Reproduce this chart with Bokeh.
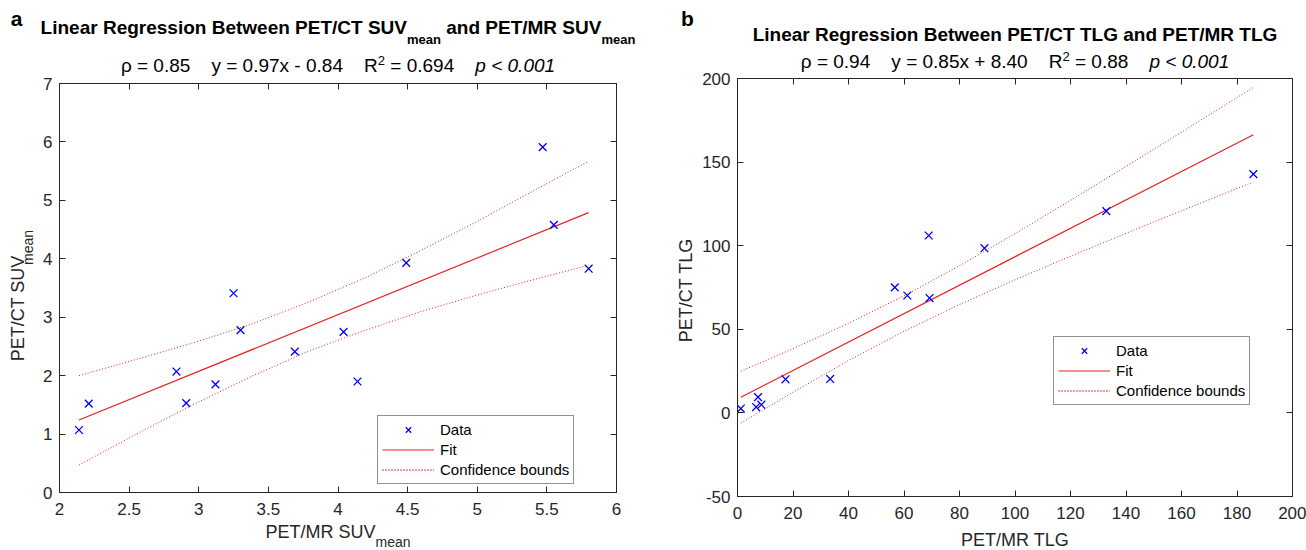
import math
import os
import subprocess

from bokeh.embed import file_html
from bokeh.layouts import column, row
from bokeh.models import FixedTicker, Label, Legend, LegendItem, LinearAxis, Range1d
from bokeh.plotting import figure
from bokeh.resources import INLINE

# ---------------------------------------------------------------- data (a)
suv_pet_mr = [2.14, 2.21, 2.84, 2.91, 3.12, 3.25, 3.30, 3.69, 4.04, 4.14, 4.49, 5.47, 5.55, 5.80]
suv_pet_ct = [1.07, 1.52, 2.07, 1.53, 1.85, 3.41, 2.78, 2.41, 2.75, 1.90, 3.93, 5.91, 4.58, 3.83]
suv_fit_x = [2.14, 5.80]
suv_fit_y = [1.24, 4.79]
suv_ci_x = [2.14, 2.6, 3.0, 3.4, 3.8, 4.2, 4.6, 5.0, 5.4, 5.80]
suv_ci_upper = [2.00, 2.31, 2.59, 2.90, 3.27, 3.68, 4.15, 4.64, 5.16, 5.67]
suv_ci_lower = [0.47, 1.06, 1.55, 2.01, 2.43, 2.78, 3.10, 3.38, 3.64, 3.89]
suv_x_ticks = [2, 2.5, 3, 3.5, 4, 4.5, 5, 5.5, 6]
suv_x_tick_labels = ["2", "2.5", "3", "3.5", "4", "4.5", "5", "5.5", "6"]
suv_y_ticks = [0, 1, 2, 3, 4, 5, 6, 7]
suv_y_tick_labels = ["0", "1", "2", "3", "4", "5", "6", "7"]

# ---------------------------------------------------------------- data (b)
tlg_pet_mr = [1.2, 6.7, 7.4, 8.6, 17.3, 33.4, 56.7, 61.2, 68.9, 69.2, 89.0, 132.9, 185.9]
tlg_pet_ct = [2.6, 3.5, 9.4, 4.9, 20.1, 20.3, 75.1, 70.2, 106.1, 68.7, 98.5, 120.7, 142.8]
tlg_fit_x = [1.2, 185.9]
tlg_fit_y = [9.4, 166.4]
tlg_ci_x = [1.2, 20, 40, 60, 80, 100, 120, 140, 160, 185.9]
tlg_ci_upper = [24.9, 38.4, 53.6, 70.0, 88.0, 107.2, 127.1, 147.4, 167.9, 194.7]
tlg_ci_lower = [-6.1, 12.4, 31.3, 48.8, 64.8, 79.6, 93.7, 107.4, 120.9, 138.1]
tlg_x_ticks = [0, 20, 40, 60, 80, 100, 120, 140, 160, 180, 200]
tlg_x_tick_labels = ["0", "20", "40", "60", "80", "100", "120", "140", "160", "180", "200"]
tlg_y_ticks = [-50, 0, 50, 100, 150, 200]
tlg_y_tick_labels = ["-50", "0", "50", "100", "150", "200"]

# ---------------------------------------------------------------- texts
legend_labels = ["Data", "Fit", "Confidence bounds"]
suv_stats = ["\u03c1 = 0.85", "y = 0.97x - 0.84", "R", "2", "= 0.694", "p < 0.001"]
tlg_stats = ["\u03c1 = 0.94", "y = 0.85x + 8.40", "R", "2", "= 0.88", "p < 0.001"]

FONT = "Liberation Sans"
AX = "#262626"
BLUE = "#0000FF"
RED = "#E82020"
W, H = 1306, 550
MID = 0.35  # distance (in em) from the alphabetic baseline up to the text box middle

# ---------------------------------------------------------------- text measuring
_cache = {}


def _font_file(bold, italic):
    style = {(False, False): "Regular", (True, False): "Bold",
             (False, True): "Italic", (True, True): "BoldItalic"}[(bold, italic)]
    cands = []
    try:
        spec = "Liberation Sans:style=" + {(False, False): "Regular", (True, False): "Bold",
                                            (False, True): "Italic", (True, True): "Bold Italic"}[(bold, italic)]
        out = subprocess.run(["fc-match", "-f", "%{file}", spec], capture_output=True,
                             text=True, timeout=5).stdout.strip()
        if out:
            cands.append(out)
    except Exception:
        pass
    for d in ["/usr/share/fonts/truetype/liberation/", "/usr/share/fonts/liberation/",
              "/usr/share/fonts/truetype/liberation2/", "/usr/share/fonts/TTF/"]:
        cands.append(d + "LiberationSans-%s.ttf" % style)
    for c in cands:
        if os.path.exists(c):
            return c
    return None


def text_width(s, size, bold=False, italic=False):
    key = (size, bold, italic)
    if key not in _cache:
        f = None
        try:
            from PIL import ImageFont
            path = _font_file(bold, italic)
            if path:
                f = ImageFont.truetype(path, size)
        except Exception:
            f = None
        _cache[key] = f
    f = _cache[key]
    if f is None:
        return 0.56 * size * len(s)
    return f.getlength(s)


# ---------------------------------------------------------------- text strips
class Strip:
    """A figure without axes holding texts; its ranges are page pixels.

    frame_x gives the page x extent of the strip's frame when the layout aligns
    that frame with the plot below it (otherwise the frame is the whole canvas)."""

    def __init__(self, ox, oy, w, h, frame_x=None):
        xr = Range1d(ox, ox + w) if frame_x is None else Range1d(*frame_x)
        f = figure(width=w, height=h, x_range=xr, y_range=Range1d(oy + h, oy),
                   output_backend="svg", toolbar_location=None, title=None,
                   x_axis_type=None, y_axis_type=None, min_border=0)
        f.outline_line_color = None
        f.background_fill_color = "white"
        f.border_fill_color = "white"
        f.grid.visible = False
        self.p = f

    def label(self, text, cx, cy, size, bold=False, italic=False, color="black", angle=0.0):
        style = "bold italic" if (bold and italic) else "bold" if bold else "italic" if italic else "normal"
        self.p.add_layout(Label(x=cx, y=cy, text=text, text_font=FONT,
                                text_font_size="%spx" % size, text_font_style=style,
                                text_color=color, angle=angle,
                                text_align="center", text_baseline="middle"))

    def hcompose(self, pieces, cx, base_y, color="black"):
        # pieces: (text, size, bold, italic, shift_down); blank text = gap only
        widths = [text_width(t, s, b, i) for (t, s, b, i, d) in pieces]
        x = cx - sum(widths) / 2.0
        for (t, s, b, i, d), w in zip(pieces, widths):
            if t.strip():
                self.label(t, x + w / 2.0, base_y + d - MID * s, s, b, i, color)
            x += w

    def vcompose(self, pieces, base_x, cy, color=AX):
        # text rotated 90 deg counter-clockwise; base_x is the baseline position
        widths = [text_width(t, s, b, i) for (t, s, b, i, d) in pieces]
        y = cy + sum(widths) / 2.0
        for (t, s, b, i, d), w in zip(pieces, widths):
            if t.strip():
                self.label(t, base_x + d - MID * s, y - w / 2.0, s, b, i, color, angle=math.pi / 2)
            y -= w


def blank_axis(ticks, side_fig, side):
    ax = LinearAxis(ticker=FixedTicker(ticks=ticks),
                    major_label_overrides={t: "" for t in ticks},
                    major_tick_in=6, major_tick_out=0, minor_tick_in=0, minor_tick_out=0,
                    major_label_standoff=0, major_label_text_font_size="1px",
                    axis_line_color=AX, major_tick_line_color=AX)
    side_fig.add_layout(ax, side)


# ---------------------------------------------------------------- plot panels
def make_plot(ox, oy, w, h, frame_left, frame_top, frame_w, frame_h, xrange, yrange, xt, xl, yt):
    p = figure(width=w, height=h, x_range=xrange, y_range=yrange,
               output_backend="svg", toolbar_location=None, title=None,
               x_axis_location="below", y_axis_location=None,
               min_border_left=frame_left - ox, min_border_right=w - (frame_left - ox) - frame_w,
               min_border_top=frame_top - oy, min_border_bottom=h - (frame_top - oy) - frame_h)
    p.background_fill_color = "white"
    p.border_fill_color = "white"
    p.outline_line_color = AX
    p.outline_line_width = 1
    p.grid.visible = False
    ax = p.xaxis[0]
    ax.ticker = FixedTicker(ticks=xt)
    ax.major_label_overrides = {t: l for t, l in zip(xt, xl)}
    ax.major_tick_in = 6
    ax.major_tick_out = 0
    ax.minor_tick_in = 0
    ax.minor_tick_out = 0
    ax.axis_line_color = AX
    ax.major_tick_line_color = AX
    ax.major_label_text_font = FONT
    ax.major_label_text_font_size = "17px"
    ax.major_label_text_color = AX
    ax.major_label_standoff = 10
    blank_axis(xt, p, "above")
    blank_axis(yt, p, "left")
    blank_axis(yt, p, "right")
    p.grid.visible = False
    return p


def make_yaxis(w, h, oy, frame_top, frame_h, yrange, yt, yl):
    """Narrow figure carrying the y tick labels; its 1px frame sits next to the plot's frame."""
    f = figure(width=w, height=h, x_range=Range1d(0, 1), y_range=yrange,
               output_backend="svg", toolbar_location=None, title=None,
               x_axis_type=None, y_axis_location="left",
               min_border_left=w - 1, min_border_right=0,
               min_border_top=frame_top - oy, min_border_bottom=h - (frame_top - oy) - frame_h)
    f.outline_line_color = None
    f.background_fill_color = "white"
    f.border_fill_color = "white"
    f.grid.visible = False
    ax = f.yaxis[0]
    ax.ticker = FixedTicker(ticks=yt)
    ax.major_label_overrides = {t: l for t, l in zip(yt, yl)}
    ax.major_tick_in = 0
    ax.major_tick_out = 0
    ax.minor_tick_in = 0
    ax.minor_tick_out = 0
    ax.axis_line_color = None
    ax.major_label_text_font = FONT
    ax.major_label_text_font_size = "17px"
    ax.major_label_text_color = AX
    ax.major_label_standoff = 0
    return f


def draw(p, xs, ys, fx, fy, cx, cu, cl, legend_loc):
    up = p.line(cx, cu, line_color=RED, line_width=1, line_dash="1 2")
    lo = p.line(cx, cl, line_color=RED, line_width=1, line_dash="1 2")
    fit = p.line(fx, fy, line_color=RED, line_width=1.2)
    sc = p.scatter(xs, ys, marker="x", size=11, line_color=BLUE, line_width=1.3)
    leg = Legend(items=[LegendItem(label=legend_labels[0], renderers=[sc]),
                        LegendItem(label=legend_labels[1], renderers=[fit]),
                        LegendItem(label=legend_labels[2], renderers=[up, lo])],
                 location=legend_loc, margin=0, padding=4, spacing=1,
                 glyph_width=52, glyph_height=19, label_height=19, label_standoff=6,
                 label_text_font=FONT, label_text_font_size="15px", label_text_color="black",
                 border_line_color=AX, border_line_width=1,
                 background_fill_color="white", background_fill_alpha=1.0)
    p.add_layout(leg)


def stats_pieces(st):
    fs = 19
    gap = ("    ", fs, False, False, 0)
    return [(st[0], fs, False, False, 0), gap,
            (st[1], fs, False, False, 0), gap,
            (st[2], fs, False, False, 0), (st[3], 13, False, False, -7),
            (" ", fs, False, False, 0), (st[4], fs, False, False, 0), gap,
            (st[5], fs, False, True, 0)]


# ---------------------------------------------------------------- panel a  (page x 0..668)
AW = 668
a_xr, a_yr = Range1d(2, 6), Range1d(0, 7)

a_title = Strip(0, 0, AW, 50)
a_title.hcompose([("a", 21, True, False, 0)], 16, 25)
a_title.hcompose([("Linear Regression Between PET/CT SUV", 19, True, False, 0),
                  ("mean", 13, True, False, 10),
                  (" ", 19, True, False, 0),
                  ("and PET/MR SUV", 19, True, False, 0),
                  ("mean", 13, True, False, 10)], 337.5, 34)

a_yl = Strip(0, 50, 40, 472)
a_yl.vcompose([("PET/CT SUV", 18, False, False, 0), ("mean", 14, False, False, 8)], 24, 292)
a_yax = make_yaxis(13, 472, 50, 83, 409, a_yr, suv_y_ticks, suv_y_tick_labels)

a_sub = Strip(53, 50, AW - 53, 27, frame_x=(59, 616))
a_sub.hcompose(stats_pieces(suv_stats), 337.5, 72)
a_plot = make_plot(53, 77, AW - 53, 445, 59, 83, 557, 409, a_xr, a_yr,
                   suv_x_ticks, suv_x_tick_labels, suv_y_ticks)
draw(a_plot, suv_pet_mr, suv_pet_ct, suv_fit_x, suv_fit_y, suv_ci_x, suv_ci_upper, suv_ci_lower, (318, 8))

a_bot = Strip(0, 522, AW, 28)
a_bot.hcompose([("PET/MR SUV", 18, False, False, 0), ("mean", 14, False, False, 8)], 337.5, 538, color=AX)

panel_a = column(a_title.p,
                 row(row(a_yl.p, a_yax), column(a_sub.p, a_plot)),
                 a_bot.p)

# ---------------------------------------------------------------- panel b  (page x 668..1306)
BX = AW
BW = W - AW
b_xr, b_yr = Range1d(0, 200), Range1d(-50, 200)

b_title = Strip(BX, 0, BW, 50)
b_title.hcompose([("b", 21, True, False, 0)], 687, 25)
b_title.hcompose([("Linear Regression Between PET/CT TLG and PET/MR TLG", 19, True, False, 0)], 1014.5, 41)

b_yl = Strip(BX, 50, 29, 474)
b_yl.vcompose([("PET/CT TLG", 18, False, False, 0)], 692, 290)
b_yax = make_yaxis(34, 474, 50, 78, 418, b_yr, tlg_y_ticks, tlg_y_tick_labels)

b_sub = Strip(731, 50, W - 731, 22, frame_x=(737, 1292))
b_sub.hcompose(stats_pieces(tlg_stats), 1014.5, 67.5)
b_plot = make_plot(731, 72, W - 731, 452, 737, 78, 555, 418, b_xr, b_yr,
                   tlg_x_ticks, tlg_x_tick_labels, tlg_y_ticks)
draw(b_plot, tlg_pet_mr, tlg_pet_ct, tlg_fit_x, tlg_fit_y, tlg_ci_x, tlg_ci_upper, tlg_ci_lower, (316, 91))

b_bot = Strip(BX, 524, BW, 26)
b_bot.hcompose([("PET/MR TLG", 18, False, False, 0)], 1014.5, 546, color=AX)

panel_b = column(b_title.p,
                 row(row(b_yl.p, b_yax), column(b_sub.p, b_plot)),
                 b_bot.p)

layout = row(panel_a, panel_b)
open("out.html", "w").write(file_html(layout, INLINE))
